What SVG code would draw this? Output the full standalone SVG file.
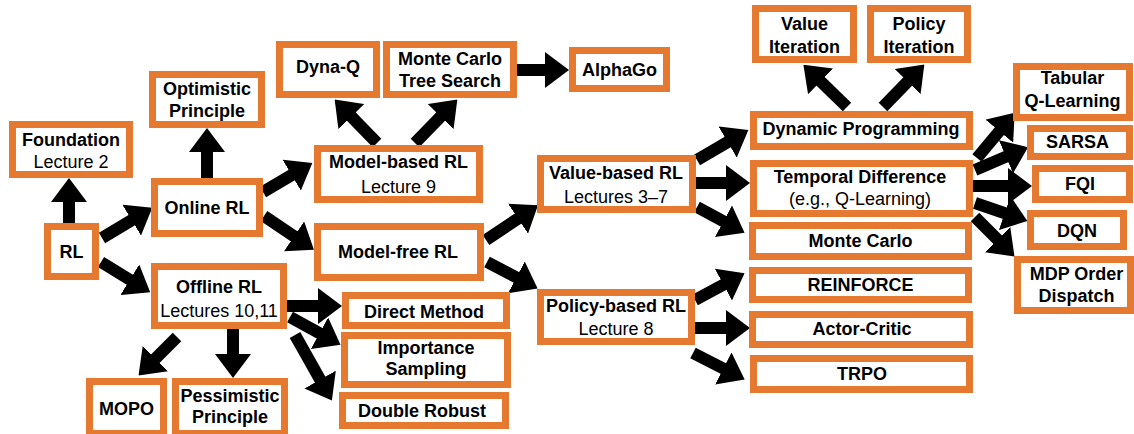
<svg xmlns="http://www.w3.org/2000/svg" width="1134" height="434" viewBox="0 0 1134 434">
<defs>
<style>
.b{fill:#fff;stroke:#E4792F;stroke-width:7}
.t{font-family:"Liberation Sans",Arial,sans-serif;font-size:18px;text-anchor:middle;fill:#000}
.bd{font-weight:bold}
.c{stroke:#000;stroke-width:12;fill:none;marker-end:url(#ah)}
</style>
<marker id="ah" markerUnits="userSpaceOnUse" viewBox="0 0 24 36" markerWidth="24" markerHeight="36" refX="12" refY="18" orient="auto">
<path d="M0,0 L24,18 L0,36 Z" fill="#000"/>
</marker>
</defs>
<rect width="1134" height="434" fill="#fff"/>
<g id="connectors">
<path class="c" d="M69,223 L69,190"/>
<path class="c" d="M102,238 L142,214"/>
<path class="c" d="M101,262 L140,286"/>
<path class="c" d="M207,178 L207,140"/>
<path class="c" d="M263,192 L302,169"/>
<path class="c" d="M264,216 L304,243"/>
<path class="c" d="M377,143 L343,108"/>
<path class="c" d="M415,143 L449,108"/>
<path class="c" d="M517,70 L557,70"/>
<path class="c" d="M486,240 L528,212"/>
<path class="c" d="M487,262 L527,283"/>
<path class="c" d="M287,306 L330,306"/>
<path class="c" d="M290,317 L330,339"/>
<path class="c" d="M295,335 L326,390"/>
<path class="c" d="M177,337 L147,367"/>
<path class="c" d="M233,329 L233,366"/>
<path class="c" d="M697,160 L738,136"/>
<path class="c" d="M696,183 L738,183"/>
<path class="c" d="M697,207 L734,227"/>
<path class="c" d="M695,300 L734,279"/>
<path class="c" d="M695,328 L738,328"/>
<path class="c" d="M693,353 L734,374"/>
<path class="c" d="M847,107 L812,73"/>
<path class="c" d="M883,107 L916,73"/>
<path class="c" d="M977,158 L1007,122"/>
<path class="c" d="M975,170 L1017,152"/>
<path class="c" d="M973,186 L1020,186"/>
<path class="c" d="M975,203 L1016,217"/>
<path class="c" d="M975,217 L1006,248"/>
</g>
<g id="foundation"><rect class="b" x="12.5" y="124.5" width="117" height="50"/><text class="t bd" x="71" y="146">Foundation</text><text class="t" x="71" y="168">Lecture 2</text></g>
<g id="optimistic"><rect class="b" x="152.5" y="74.5" width="109" height="50"/><text class="t bd" x="207" y="95">Optimistic</text><text class="t bd" x="207" y="117">Principle</text></g>
<g id="rl"><rect class="b" x="47.5" y="226.5" width="48" height="50"/><text class="t bd" x="71.5" y="258">RL</text></g>
<g id="online"><rect class="b" x="154.5" y="181.5" width="105" height="52"/><text class="t bd" x="207" y="213.5">Online RL</text></g>
<g id="offline"><rect class="b" x="154.5" y="266.5" width="129" height="59"/><text class="t bd" x="219" y="293">Offline RL</text><text class="t" x="219" y="317">Lectures 10,11</text></g>
<g id="mopo"><rect class="b" x="89.5" y="381.5" width="74" height="52"/><text class="t bd" x="126.5" y="415">MOPO</text></g>
<g id="pessimistic"><rect class="b" x="175.5" y="381.5" width="109" height="52"/><text class="t bd" x="230" y="402">Pessimistic</text><text class="t bd" x="230" y="423">Principle</text></g>
<g id="dynaq"><rect class="b" x="279.5" y="44.5" width="97" height="50"/><text class="t bd" x="328" y="73">Dyna-Q</text></g>
<g id="mcts"><rect class="b" x="386.5" y="44.5" width="127" height="50"/><text class="t bd" x="450" y="65">Monte Carlo</text><text class="t bd" x="450" y="87">Tree Search</text></g>
<g id="alphago"><rect class="b" x="572.5" y="50.5" width="94" height="38"/><text class="t bd" x="619.5" y="76">AlphaGo</text></g>
<g id="modelbased"><rect class="b" x="317.5" y="148.5" width="162" height="51"/><text class="t bd" x="398.5" y="168">Model-based RL</text><text class="t" x="398.5" y="193">Lecture 9</text></g>
<g id="modelfree"><rect class="b" x="317.5" y="226.5" width="163" height="51"/><text class="t bd" x="398" y="258">Model-free RL</text></g>
<g id="direct"><rect class="b" x="345.5" y="295.5" width="161" height="30"/><text class="t bd" x="424" y="318">Direct Method</text></g>
<g id="importance"><rect class="b" x="344.5" y="335.5" width="163" height="49"/><text class="t bd" x="426" y="354">Importance</text><text class="t bd" x="426" y="375">Sampling</text></g>
<g id="doublerobust"><rect class="b" x="342.5" y="395.5" width="163" height="30"/><text class="t bd" x="422" y="417">Double Robust</text></g>
<g id="valuebased"><rect class="b" x="540.5" y="158.5" width="152" height="51"/><text class="t bd" x="616" y="179">Value-based RL</text><text class="t" x="616" y="203">Lectures 3–7</text></g>
<g id="policybased"><rect class="b" x="540.5" y="292.5" width="151" height="49"/><text class="t bd" x="616" y="312">Policy-based RL</text><text class="t" x="616" y="335">Lecture 8</text></g>
<g id="valueiter"><rect class="b" x="755.5" y="8.5" width="98" height="51"/><text class="t bd" x="804.5" y="30">Value</text><text class="t bd" x="804.5" y="53">Iteration</text></g>
<g id="policyiter"><rect class="b" x="870.5" y="8.5" width="97" height="51"/><text class="t bd" x="919" y="30">Policy</text><text class="t bd" x="919" y="53">Iteration</text></g>
<g id="dp"><rect class="b" x="753.5" y="114.5" width="216" height="32"/><text class="t bd" x="861" y="135">Dynamic Programming</text></g>
<g id="td"><rect class="b" x="753.5" y="163.5" width="216" height="50"/><text class="t bd" x="860" y="183">Temporal Difference</text><text class="t" x="860" y="205">(e.g., Q-Learning)</text></g>
<g id="montecarlo"><rect class="b" x="752.5" y="225.5" width="216" height="31"/><text class="t bd" x="860.5" y="247">Monte Carlo</text></g>
<g id="reinforce"><rect class="b" x="752.5" y="270.5" width="216" height="29"/><text class="t bd" x="860.5" y="291">REINFORCE</text></g>
<g id="actorcritic"><rect class="b" x="752.5" y="314.5" width="217" height="30"/><text class="t bd" x="862" y="335">Actor-Critic</text></g>
<g id="trpo"><rect class="b" x="753.5" y="358.5" width="216" height="31"/><text class="t bd" x="862" y="380">TRPO</text></g>
<g id="tabular"><rect class="b" x="1016.5" y="66.5" width="113" height="51"/><text class="t bd" x="1072.5" y="84">Tabular</text><text class="t bd" x="1072.5" y="107">Q-Learning</text></g>
<g id="sarsa"><rect class="b" x="1030.5" y="128.5" width="99" height="28"/><text class="t bd" x="1077.5" y="148">SARSA</text></g>
<g id="fqi"><rect class="b" x="1035.5" y="168.5" width="94" height="31"/><text class="t bd" x="1080" y="190">FQI</text></g>
<g id="dqn"><rect class="b" x="1030.5" y="213.5" width="93" height="33"/><text class="t bd" x="1077" y="237">DQN</text></g>
<g id="mdp"><rect class="b" x="1017.5" y="259.5" width="113" height="51"/><text class="t bd" x="1076.5" y="280">MDP Order</text><text class="t bd" x="1076.5" y="302">Dispatch</text></g>
</svg>
